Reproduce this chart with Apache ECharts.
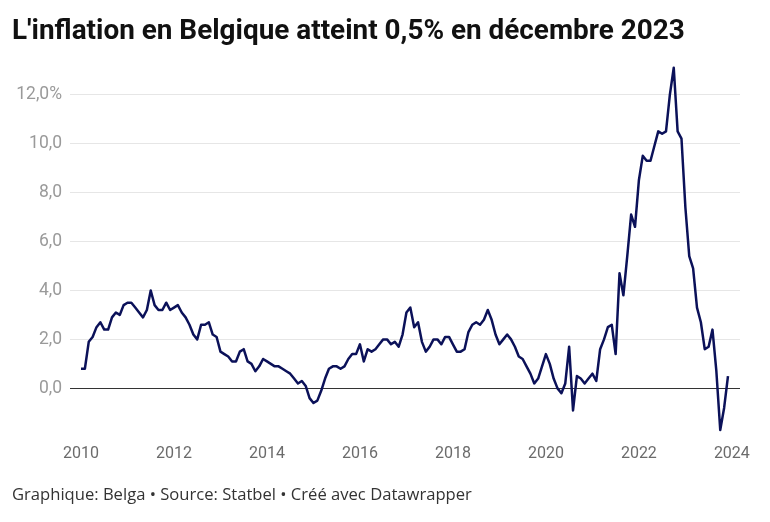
<!DOCTYPE html>
<html>
<head>
<meta charset="utf-8">
<script src="https://cdn.jsdelivr.net/npm/echarts@6/dist/echarts.min.js"></script>
<style>
html,body{margin:0;padding:0;background:#fff;}
#c{width:770px;height:522px;}
</style>
</head>
<body>
<div id="c"></div>
<script>
// Monthly year-on-year inflation (%), January..December
const startYear = 2010;
const y2010 = [0.8, 0.8, 1.9, 2.1, 2.5, 2.7, 2.4, 2.4, 2.9, 3.1, 3.0, 3.4];
const y2011 = [3.5, 3.5, 3.3, 3.1, 2.9, 3.2, 4.0, 3.4, 3.2, 3.2, 3.5, 3.2];
const y2012 = [3.3, 3.4, 3.1, 2.9, 2.6, 2.2, 2.0, 2.6, 2.6, 2.7, 2.2, 2.1];
const y2013 = [1.5, 1.4, 1.3, 1.1, 1.1, 1.5, 1.6, 1.1, 1.0, 0.7, 0.9, 1.2];
const y2014 = [1.1, 1.0, 0.9, 0.9, 0.8, 0.7, 0.6, 0.4, 0.2, 0.3, 0.1, -0.4];
const y2015 = [-0.6, -0.5, -0.1, 0.4, 0.8, 0.9, 0.9, 0.8, 0.9, 1.2, 1.4, 1.4];
const y2016 = [1.8, 1.1, 1.6, 1.5, 1.6, 1.8, 2.0, 2.0, 1.8, 1.9, 1.7, 2.2];
const y2017 = [3.1, 3.3, 2.5, 2.7, 1.9, 1.5, 1.7, 2.0, 2.0, 1.8, 2.1, 2.1];
const y2018 = [1.8, 1.5, 1.5, 1.6, 2.3, 2.6, 2.7, 2.6, 2.8, 3.2, 2.8, 2.2];
const y2019 = [1.8, 2.0, 2.2, 2.0, 1.7, 1.3, 1.2, 0.9, 0.6, 0.2, 0.4, 0.9];
const y2020 = [1.4, 1.0, 0.4, 0.0, -0.2, 0.2, 1.7, -0.9, 0.5, 0.4, 0.2, 0.4];
const y2021 = [0.6, 0.3, 1.6, 2.0, 2.5, 2.6, 1.4, 4.7, 3.8, 5.4, 7.1, 6.6];
const y2022 = [8.5, 9.5, 9.3, 9.3, 9.9, 10.5, 10.4, 10.5, 12.0, 13.1, 10.5, 10.2];
const y2023 = [7.4, 5.4, 4.9, 3.3, 2.7, 1.6, 1.7, 2.4, 0.7, -1.7, -0.8, 0.5];
const yearlyValues = [y2010, y2011, y2012, y2013, y2014, y2015, y2016, y2017, y2018, y2019, y2020, y2021, y2022, y2023];
const xTickLabels = [2010, 2012, 2014, 2016, 2018, 2020, 2022, 2024];

const seriesData = [];
yearlyValues.forEach((arr, yi) => {
  arr.forEach((v, m) => seriesData.push([startYear + yi + m / 12, v]));
});

const chart = echarts.init(document.getElementById('c'), null, {renderer: 'canvas'});
const pxPerYear = 46.49;
const gridLeft = 70, gridRight = 30;
const gridWidth = 770 - gridLeft - gridRight;
const xMin = 2010 - 11 / pxPerYear;
const xMax = xMin + gridWidth / pxPerYear;
const fontFam = 'Roboto, "Liberation Sans", sans-serif';

chart.setOption({
  animation: false,
  backgroundColor: '#ffffff',
  title: [{
    text: "L'inflation en Belgique atteint 0,5% en décembre 2023",
    left: 12, top: 18, padding: 0,
    textStyle: {fontFamily: fontFam, fontWeight: 'bold', fontSize: 27.9, color: '#111111'}
  }, {
    text: 'Graphique: Belga • Source: Statbel • Créé avec Datawrapper',
    left: 12, top: 487, padding: 0,
    textStyle: {fontFamily: '"Open Sans", Roboto, sans-serif', fontWeight: 'normal', fontSize: 16.6, color: '#333333'}
  }],
  grid: {left: gridLeft, right: gridRight, top: 45.7, bottom: 84.7, containLabel: false},
  xAxis: {
    type: 'value', min: xMin, max: xMax,
    axisLine: {show: false}, axisTick: {show: false}, splitLine: {show: false},
    axisLabel: {
      customValues: xTickLabels, margin: 9,
      fontFamily: fontFam, fontSize: 16, color: '#6b6b6b',
      formatter: v => String(Math.round(v))
    }
  },
  yAxis: {
    type: 'value', min: -2, max: 14, interval: 2,
    axisLine: {show: false}, axisTick: {show: false},
    splitLine: {show: true, showMinLine: false, showMaxLine: false, lineStyle: {color: '#e6e6e6', width: 1}},
    axisLabel: {
      margin: 8, fontFamily: fontFam, fontSize: 17.5, color: '#9a9a9a',
      formatter: v => (v < 0 || v > 12) ? '' : (v.toFixed(1).replace('.', ',') + (v === 12 ? '%' : ''))
    }
  },
  series: [{
    type: 'line', data: seriesData, showSymbol: false, symbol: 'none',
    lineStyle: {color: '#0b1159', width: 2.5, join: 'round'},
    z: 5,
    markLine: {
      silent: true, symbol: 'none', label: {show: false},
      lineStyle: {color: '#333333', width: 1, type: 'solid'},
      data: [{yAxis: 0}],
      z: 3
    }
  }]
});
</script>
</body>
</html>
